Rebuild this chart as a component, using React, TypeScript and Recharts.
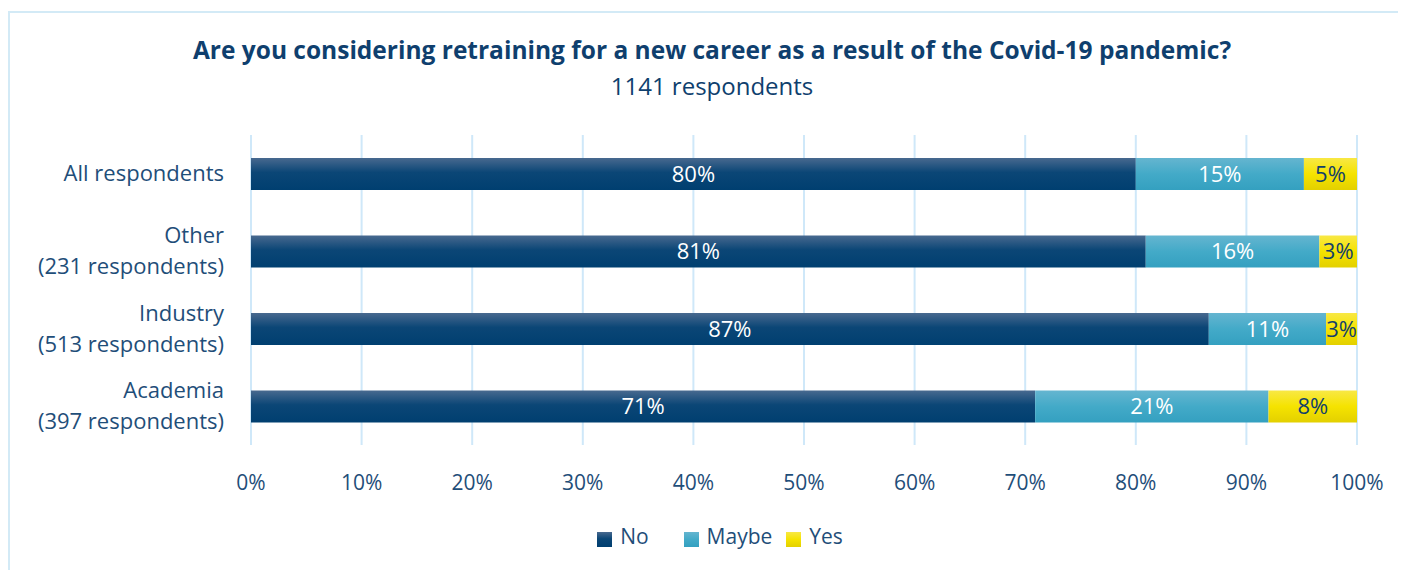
import React from "react";
import { Bar, BarChart, CartesianGrid, LabelList, Legend, XAxis, YAxis } from "recharts";

const groups = [
  "All respondents",
  "Other\n(231 respondents)",
  "Industry\n(513 respondents)",
  "Academia\n(397 respondents)",
];
const noValues = [80.0, 80.9, 86.6, 70.9];
const maybeValues = [15.2, 15.7, 10.6, 21.1];
const yesValues = [4.8, 3.4, 2.8, 8.0];
const xTicks = [0, 10, 20, 30, 40, 50, 60, 70, 80, 90, 100];
const seriesOrder = ["No", "Maybe", "Yes"];
const legendGap: Record<string, number> = { No: 25, Maybe: 4, Yes: 0 };

const data = groups.map((g, i) => ({
  group: g,
  No: noValues[i],
  Maybe: maybeValues[i],
  Yes: yesValues[i],
}));

const textBlue = "#1f4e79";
const font = "'Open Sans', Lato, sans-serif";

const GroupTick = (props: any) => {
  const { x, y, payload } = props;
  const lines = String(payload.value).split("\n");
  const lh = 31;
  const start = -((lines.length - 1) * lh) / 2;
  return (
    <text x={x} y={y} textAnchor="end" fill={textBlue} fontSize={22} fontFamily={font}>
      {lines.map((l, i) => (
        <tspan key={i} x={x} y={y + start + i * lh} dy="0.35em">
          {l}
        </tspan>
      ))}
    </text>
  );
};

const pct = (v: any) => `${Math.round(Number(v))}%`;

const App = () => {
  return (
    <div style={{ position: "relative", width: 1390, height: 562, overflow: "hidden", fontFamily: font }}>
      <div
        style={{
          position: "absolute",
          left: 0,
          top: 3,
          width: 1500,
          height: 700,
          borderTop: "2px solid #d3eaf6",
          borderLeft: "2px solid #d3eaf6",
        }}
      />
      <div
        style={{
          position: "absolute",
          left: 0,
          width: 1408,
          top: 25,
          textAlign: "center",
          color: "#0f3f6e",
          fontWeight: 700,
          fontSize: 24.5,
        }}
      >
        Are you considering retraining for a new career as a result of the Covid-19 pandemic?
      </div>
      <div
        style={{
          position: "absolute",
          left: 0,
          width: 1408,
          top: 61,
          textAlign: "center",
          color: "#0f3f6e",
          fontSize: 24,
        }}
      >
        1141 respondents
      </div>
      <div style={{ position: "absolute", left: 0, top: 0 }}>
        <BarChart
          width={1390}
          height={562}
          data={data}
          layout="vertical"
          margin={{ top: 127, right: 41, bottom: 8, left: 0 }}
        >
          <defs>
            <linearGradient id="gNo" x1="0" y1="0" x2="0" y2="1">
              <stop offset="0%" stopColor="#48698f" />
              <stop offset="45%" stopColor="#0b4676" />
              <stop offset="100%" stopColor="#003f70" />
            </linearGradient>
            <linearGradient id="gMaybe" x1="0" y1="0" x2="0" y2="1">
              <stop offset="0%" stopColor="#65b5d0" />
              <stop offset="50%" stopColor="#43aac8" />
              <stop offset="100%" stopColor="#34a0c0" />
            </linearGradient>
            <linearGradient id="gYes" x1="0" y1="0" x2="0" y2="1">
              <stop offset="0%" stopColor="#f8e845" />
              <stop offset="50%" stopColor="#f5e300" />
              <stop offset="100%" stopColor="#e3d000" />
            </linearGradient>
          </defs>
          <CartesianGrid horizontal={false} stroke="#cfe8f9" strokeWidth={2} />
          <XAxis
            type="number"
            domain={[0, 100]}
            ticks={xTicks}
            tickFormatter={(v) => `${v}%`}
            axisLine={false}
            tickLine={false}
            tickSize={0}
            tickMargin={30}
            height={77}
            tick={{ fill: textBlue, fontSize: 21, fontFamily: font }}
            interval={0}
          />
          <YAxis
            type="category"
            dataKey="group"
            width={243}
            axisLine={false}
            tickLine={false}
            tickSize={0}
            tickMargin={27}
            tick={<GroupTick />}
            interval={0}
          />
          <Legend
            verticalAlign="bottom"
            height={40}
            iconType="square"
            iconSize={15}
            itemSorter={(item: any) => seriesOrder.indexOf(item.value)}
            formatter={(value) => (
              <span
                style={{
                  color: textBlue,
                  fontSize: 21,
                  fontFamily: font,
                  marginLeft: 4,
                  marginRight: legendGap[String(value)] ?? 0,
                }}
              >
                {value}
              </span>
            )}
            wrapperStyle={{ paddingLeft: 0, left: 0, width: 1434 }}
          />
          <Bar dataKey="No" stackId="s" fill="url(#gNo)" barSize={32} isAnimationActive={false}>
            <LabelList dataKey="No" position="center" formatter={pct} fill="#ffffff" fontSize={22} fontFamily={font} />
          </Bar>
          <Bar dataKey="Maybe" stackId="s" fill="url(#gMaybe)" barSize={32} isAnimationActive={false}>
            <LabelList dataKey="Maybe" position="center" formatter={pct} fill="#ffffff" fontSize={22} fontFamily={font} />
          </Bar>
          <Bar dataKey="Yes" stackId="s" fill="url(#gYes)" barSize={32} isAnimationActive={false}>
            <LabelList dataKey="Yes" position="center" formatter={pct} fill="#123f6b" fontSize={22} fontFamily={font} />
          </Bar>
        </BarChart>
      </div>
    </div>
  );
};

export default App;
